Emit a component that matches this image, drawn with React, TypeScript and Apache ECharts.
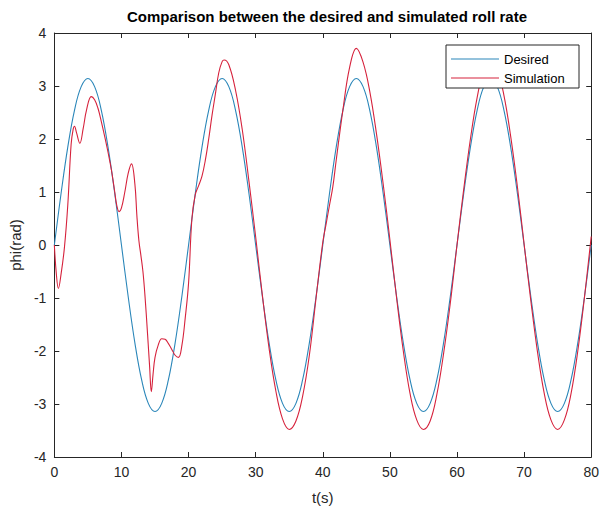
import React, { useEffect, useRef } from "react";
import * as echarts from "echarts";

const titleText = "Comparison between the desired and simulated roll rate";
const seriesNames = ["Desired", "Simulation"];
const xTicks = [0, 10, 20, 30, 40, 50, 60, 70, 80];
const yTicks = [-4, -3, -2, -1, 0, 1, 2, 3, 4];

// Desired roll rate, sampled every second
const desiredT = [
  0, 1, 2, 3, 4, 5, 6, 7, 8, 9, 10, 11, 12, 13, 14, 15, 16, 17, 18, 19,
  20, 21, 22, 23, 24, 25, 26, 27, 28, 29, 30, 31, 32, 33, 34, 35, 36, 37, 38, 39,
  40, 41, 42, 43, 44, 45, 46, 47, 48, 49, 50, 51, 52, 53, 54, 55, 56, 57, 58, 59,
  60, 61, 62, 63, 64, 65, 66, 67, 68, 69, 70, 71, 72, 73, 74, 75, 76, 77, 78, 79, 80,
];
const desiredV = [
  0, 0.971, 1.847, 2.542, 2.988, 3.142, 2.988, 2.542, 1.847, 0.971,
  0, -0.971, -1.847, -2.542, -2.988, -3.142, -2.988, -2.542, -1.847, -0.971,
  0, 0.971, 1.847, 2.542, 2.988, 3.142, 2.988, 2.542, 1.847, 0.971,
  0, -0.971, -1.847, -2.542, -2.988, -3.142, -2.988, -2.542, -1.847, -0.971,
  0, 0.971, 1.847, 2.542, 2.988, 3.142, 2.988, 2.542, 1.847, 0.971,
  0, -0.971, -1.847, -2.542, -2.988, -3.142, -2.988, -2.542, -1.847, -0.971,
  0, 0.971, 1.847, 2.542, 2.988, 3.142, 2.988, 2.542, 1.847, 0.971,
  0, -0.971, -1.847, -2.542, -2.988, -3.142, -2.988, -2.542, -1.847, -0.971,
  0,
];

// Simulated roll rate
const simT = [
  0, 0.3, 0.6, 1.0, 1.5, 2.0, 2.5, 2.8, 3.0, 3.3, 3.8, 4.3, 4.8, 5.5, 6.0, 6.5, 7.0, 7.5,
  8.0, 8.5, 9.0, 9.3, 9.65, 10.0, 10.5, 11.0, 11.5, 12.0, 12.3, 12.6, 12.9, 13.2, 13.5,
  13.9, 14.2, 14.45, 14.7, 15.0, 15.5, 16.0, 16.5, 17.0, 17.5, 18.0, 18.5, 19.0, 19.5,
  20.0, 20.5, 21.0, 21.5, 22.0, 22.5, 23.0, 23.5, 24.0, 24.5, 25.0, 25.3,
  26, 27, 28, 29, 30, 31, 32, 33, 34, 35, 36, 37, 38, 39, 40, 40.5, 41, 41.5, 42, 43, 44, 45,
  46, 47, 48, 49, 50, 51, 52, 53, 54, 55, 56, 57, 58, 59, 60, 61, 62, 63, 64, 65,
  66, 67, 68, 69, 70, 71, 72, 73, 74, 75, 76, 77, 78, 79, 80,
];
const simV = [
  0, -0.55, -0.82, -0.55, -0.05, 0.75, 1.9, 2.18, 2.24, 2.12, 1.92, 2.2, 2.55, 2.8, 2.74, 2.58, 2.33, 2.05,
  1.75, 1.42, 1.0, 0.75, 0.63, 0.7, 1.0, 1.35, 1.53, 1.15, 0.55, 0.08, -0.2, -0.5, -0.95,
  -1.7, -2.3, -2.77, -2.45, -2.12, -1.88, -1.77, -1.78, -1.86, -1.97, -2.08, -2.12, -1.9, -1.38,
  -0.72, 0.5, 0.95, 1.12, 1.3, 1.6, 2.0, 2.45, 2.85, 3.25, 3.46, 3.49,
  3.4, 2.92, 2.18, 1.2, 0.15, -0.95, -1.95, -2.75, -3.28, -3.48, -3.32, -2.85, -2.08, -1.0, 0.05, 0.4, 0.75, 1.1, 1.6, 2.55, 3.35, 3.71,
  3.45, 2.9, 2.1, 1.15, 0.1, -1.0, -2.0, -2.8, -3.3, -3.48, -3.32, -2.82, -2.05, -1.1, 0.0, 1.05, 2.0, 2.78, 3.3, 3.47,
  3.3, 2.82, 2.05, 1.1, 0.02, -1.05, -2.02, -2.8, -3.3, -3.48, -3.3, -2.8, -2.0, -0.98, 0.16,
];

const FONT = "Arial, 'Liberation Sans', Helvetica, sans-serif";
const AXIS_COLOR = "#262626";
const TEXT_COLOR = "#262626";
const BLUE = "#2a86b9";
const RED = "#d6223c";
const seriesColors = [BLUE, RED];

export default function App() {
  const ref = useRef<HTMLDivElement>(null);

  useEffect(() => {
    if (!ref.current) return;
    const chart = echarts.init(ref.current, undefined, { renderer: "svg" });

    const xBase = {
      type: "value" as const,
      min: xTicks[0],
      max: xTicks[xTicks.length - 1],
      interval: xTicks[1] - xTicks[0],
      splitLine: { show: false },
      axisLine: { show: true, onZero: false, lineStyle: { color: AXIS_COLOR, width: 1 } },
      axisTick: { show: true, inside: true, length: 5, lineStyle: { color: AXIS_COLOR } },
    };
    const yBase = {
      type: "value" as const,
      min: yTicks[0],
      max: yTicks[yTicks.length - 1],
      interval: yTicks[1] - yTicks[0],
      splitLine: { show: false },
      axisLine: { show: true, onZero: false, lineStyle: { color: AXIS_COLOR, width: 1 } },
      axisTick: { show: true, inside: true, length: 5, lineStyle: { color: AXIS_COLOR } },
    };

    // Legend box drawn as graphic (MATLAB style)
    const legendLeft = 446;
    const legendTop = 45;
    const legendW = 133;
    const legendH = 43;
    const rowY = [59, 78];
    const legendChildren: any[] = [
      {
        type: "rect",
        z: 100,
        shape: { x: legendLeft, y: legendTop, width: legendW, height: legendH },
        style: { fill: "#ffffff", stroke: AXIS_COLOR, lineWidth: 1 },
      },
    ];
    seriesNames.forEach((name, i) => {
      legendChildren.push({
        type: "line",
        z: 101,
        shape: { x1: legendLeft + 5, y1: rowY[i], x2: legendLeft + 53, y2: rowY[i] },
        style: { stroke: seriesColors[i], lineWidth: 1.1 },
      });
      legendChildren.push({
        type: "text",
        z: 101,
        x: legendLeft + 58,
        y: rowY[i],
        style: {
          text: name,
          fill: "#000000",
          font: `13px ${FONT}`,
          verticalAlign: "middle",
        },
      });
    });

    chart.setOption({
      animation: false,
      backgroundColor: "#ffffff",
      title: {
        text: titleText,
        left: 322,
        textAlign: "center",
        top: 4,
        textStyle: { fontFamily: FONT, fontSize: 15, fontWeight: "bold", color: "#000000" },
      },
      graphic: legendChildren,
      grid: { left: 53, right: 10, top: 33, bottom: 53, containLabel: false },
      xAxis: [
        {
          ...xBase,
          position: "bottom",
          name: "t(s)",
          nameLocation: "middle",
          nameGap: 33,
          nameTextStyle: { fontFamily: FONT, fontSize: 15, color: TEXT_COLOR },
          axisLabel: { show: true, margin: 8, fontFamily: FONT, fontSize: 14, color: TEXT_COLOR },
        },
        {
          ...xBase,
          position: "top",
          axisLabel: { show: false },
        },
      ],
      yAxis: [
        {
          ...yBase,
          position: "left",
          name: "phi(rad)",
          nameLocation: "middle",
          nameGap: 30,
          nameTextStyle: { fontFamily: FONT, fontSize: 15, color: TEXT_COLOR },
          axisLabel: { show: true, margin: 8, fontFamily: FONT, fontSize: 14, color: TEXT_COLOR },
        },
        {
          ...yBase,
          position: "right",
          axisLabel: { show: false },
        },
      ],
      series: [
        {
          name: seriesNames[0],
          type: "line",
          xAxisIndex: 0,
          yAxisIndex: 0,
          data: desiredT.map((t, i) => [t, desiredV[i]]),
          smooth: 0.4,
          symbol: "none",
          showSymbol: false,
          lineStyle: { color: BLUE, width: 1.1 },
          itemStyle: { color: BLUE },
          z: 2,
        },
        {
          name: seriesNames[1],
          type: "line",
          xAxisIndex: 0,
          yAxisIndex: 0,
          data: simT.map((t, i) => [t, simV[i]]),
          smooth: 0.4,
          symbol: "none",
          showSymbol: false,
          lineStyle: { color: RED, width: 1.1 },
          itemStyle: { color: RED },
          z: 3,
        },
      ],
    });

    return () => chart.dispose();
  }, []);

  return (
    <div
      ref={ref}
      style={{ position: "fixed", left: 0, top: 0, width: 602, height: 510, background: "#fff" }}
    />
  );
}
